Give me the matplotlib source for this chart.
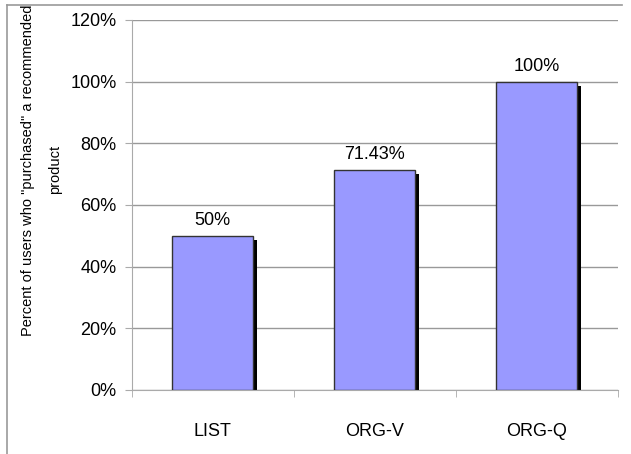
import numpy as np
import matplotlib
matplotlib.use("Agg")
import matplotlib.pyplot as plt
from matplotlib.transforms import offset_copy
from matplotlib.lines import Line2D

# data
kategorier = ["LIST", "ORG-V", "ORG-Q"]
prosent = [50, 71.43, 100]
etiketter = ["50%", "71.43%", "100%"]
y_ticks = [0, 20, 40, 60, 80, 100, 120]

plt.rcParams['font.family'] = ['Liberation Sans', 'DejaVu Sans']

fig = plt.figure(figsize=(6.31, 4.54), dpi=100)
ax = fig.add_axes([0.209, 0.141, 0.770, 0.815])

x = np.arange(len(kategorier))

# skygge (forskjøvet svart søyle)
skygge = offset_copy(ax.transData, fig=fig, x=4, y=-4, units='dots')
ax.bar(x, prosent, width=0.5, color='black', transform=skygge, zorder=2)
ax.bar(x, prosent, width=0.5, color='#9999ff', edgecolor='#333333',
       linewidth=1, zorder=3)

for xi, v, lab in zip(x, prosent, etiketter):
    ax.annotate(lab, (xi, v), xytext=(0, 5), textcoords='offset points',
                ha='center', va='bottom', fontsize=13, zorder=4)

ax.set_xlim(-0.5, len(kategorier) - 0.5)
ax.set_ylim(0, 120)
ax.set_yticks(y_ticks)
ax.set_yticklabels([f"{t}%" for t in y_ticks], fontsize=13)
ax.yaxis.grid(True, color='#999999', linewidth=1)
ax.set_axisbelow(True)

ax.set_xticks(x)
ax.set_xticklabels(kategorier, fontsize=13)
ax.set_xticks(np.arange(len(kategorier) + 1) - 0.5, minor=True)
ax.tick_params(axis='x', which='major', length=0, pad=24)
ax.tick_params(axis='x', which='minor', length=5, color='#aaaaaa')
ax.tick_params(axis='y', length=5, color='#aaaaaa', pad=6)

for side in ['top', 'right']:
    ax.spines[side].set_visible(False)
for side in ['left', 'bottom']:
    ax.spines[side].set_color('#aaaaaa')

ax.set_ylabel('Percent of users who "purchased" a recommended\nproduct',
              fontsize=10.5, linespacing=2.2)
ax.yaxis.set_label_coords(-0.144, 0.595)

# ramme rundt figuren (venstre og topp)
fig.add_artist(Line2D([0.011, 0.011], [0, 0.989], transform=fig.transFigure,
                      color='#999999', linewidth=1.2))
fig.add_artist(Line2D([0.011, 0.986], [0.989, 0.989], transform=fig.transFigure,
                      color='#999999', linewidth=1.2))

fig.savefig('out.png', dpi=100)
